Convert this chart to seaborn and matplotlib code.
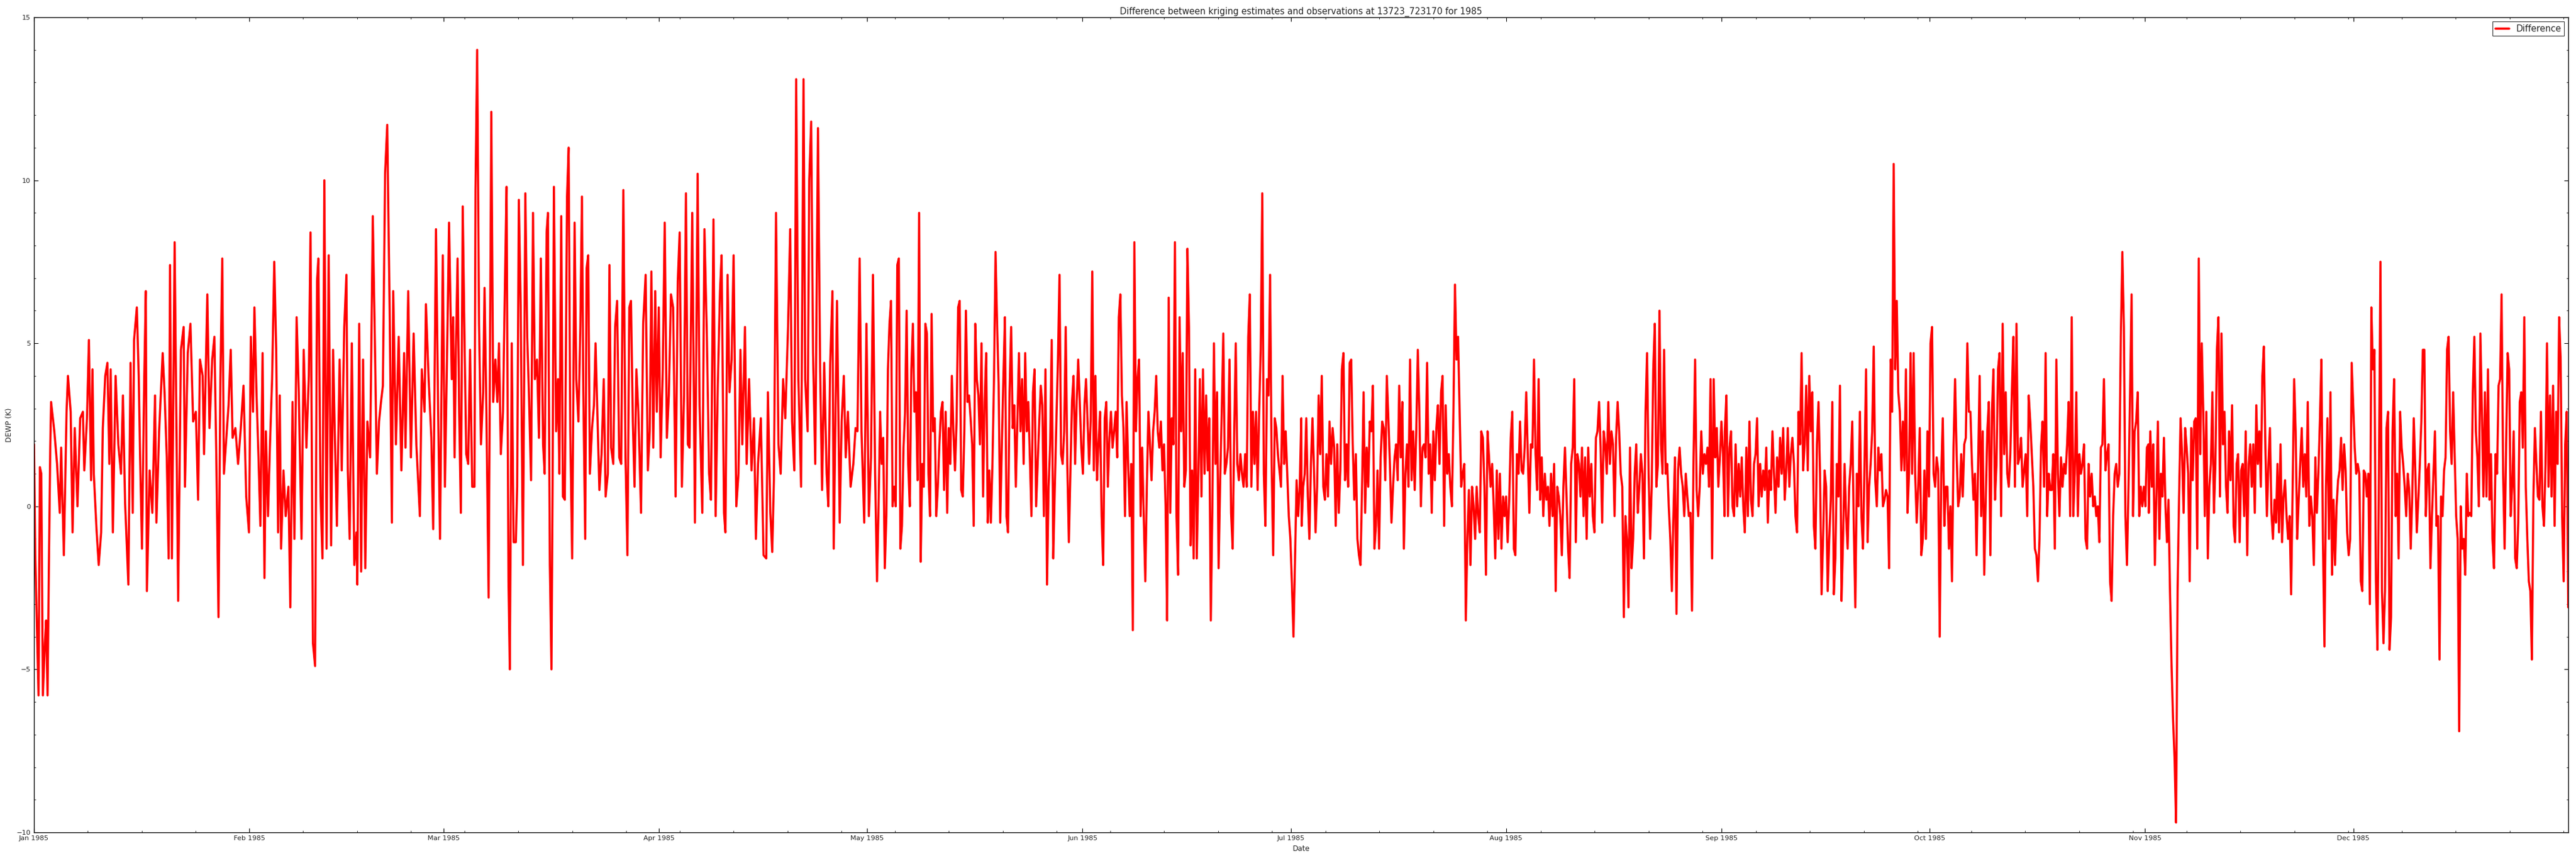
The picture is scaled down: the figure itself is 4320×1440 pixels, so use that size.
import numpy as np
import pandas as pd
import seaborn as sns
import matplotlib
matplotlib.use("Agg")
import matplotlib.pyplot as plt
import matplotlib.dates as mdates
from matplotlib.ticker import AutoMinorLocator, MultipleLocator

# Jan - Feb (day of year)
seg1_days = [0.0, 0.18, 0.65, 0.85, 1.05, 1.28, 1.56, 1.75, 1.95, 2.14,
             2.34, 2.46, 2.93, 3.32, 3.71, 3.91, 4.30, 4.69, 4.89, 5.28,
             5.55, 5.87, 6.26, 6.65, 7.04, 7.24, 7.63, 7.91, 8.22, 8.42,
             8.61, 9.00, 9.32, 9.67, 9.91, 10.26, 10.57, 10.85, 11.04, 11.36,
             11.75, 12.14, 12.53, 12.81, 13.12, 13.59, 13.90, 14.22, 14.41, 14.81,
             15.08, 15.28, 15.55, 15.86, 16.10, 16.26, 16.65, 17.04, 17.43, 17.63,
             18.02, 18.53, 18.80, 19.12, 19.39, 19.59, 19.86, 20.25, 20.76, 21.16,
             21.55, 21.74, 22.14, 22.53, 22.92, 23.31, 23.63, 23.90, 24.29, 24.49,
             24.96, 25.27, 25.66, 25.98, 26.25, 26.57, 26.84, 27.11, 27.35, 27.70,
             28.02, 28.33, 28.60, 29.00, 29.39, 29.78, 30.17, 30.56, 30.96, 31.23,
             31.54, 31.74, 32.05, 32.33, 32.60, 32.92, 33.19, 33.39, 33.70, 33.97,
             34.29, 34.60, 34.88, 35.15, 35.39, 35.58, 35.93, 36.25, 36.64, 36.91,
             37.23, 37.50, 37.82, 38.13, 38.52, 38.84, 39.23, 39.58, 39.82, 40.17,
             40.48, 40.76, 40.95, 41.27, 41.54, 41.81, 42.13, 42.44, 42.79, 43.07,
             43.30, 43.62, 44.01, 44.32, 44.68, 44.99, 45.19, 45.46, 45.77, 46.13,
             46.44, 46.56, 46.83, 47.11, 47.39, 47.71, 48.01, 48.40, 48.79, 49.11,
             49.38, 49.69, 49.97, 50.24, 50.56, 50.87, 51.22, 51.54, 51.73, 52.12,
             52.52, 52.91, 53.30, 53.50, 53.89, 54.28, 54.67, 55.06, 55.57, 55.85,
             56.24, 56.44, 56.83, 57.22, 57.49, 57.89, 58.20, 58.47, 58.87, 59.18,
             59.57, 59.77, 60.16]
seg1_vals = [1.9, -1.5, -5.8, 1.2, 1.0, -5.8, -4.2, -3.5, -5.8, -1.9,
             1.8, 3.2, 2.3, 1.3, -0.2, 1.8, -1.5, 2.9, 4.0, 2.9,
             -0.8, 2.4, 0.0, 2.7, 2.9, 1.1, 2.7, 5.1, 0.8, 4.2,
             1.0, -0.7, -1.8, -0.8, 2.4, 4.0, 4.4, 1.3, 4.2, -0.8,
             4.0, 1.9, 1.0, 3.4, 0.1, -2.4, 4.4, -0.2, 5.1, 6.1,
             4.0, 1.5, -1.3, 3.7, 6.6, -2.6, 1.1, -0.2, 3.4, -0.5,
             2.3, 4.7, 3.5, 1.5, -1.6, 7.4, -1.6, 8.1, -2.9, 4.8,
             5.5, 0.6, 4.7, 5.6, 2.6, 2.9, 0.2, 4.5, 4.0, 1.6,
             6.5, 2.4, 4.5, 5.2, 1.6, -3.4, 3.9, 7.6, 1.0, 2.1,
             3.1, 4.8, 2.1, 2.4, 1.3, 2.4, 3.7, 0.3, -0.8, 5.2,
             2.9, 6.1, 3.4, 1.5, -0.6, 4.7, -2.2, 2.3, -0.3, 1.8,
             3.9, 7.5, 4.8, -0.8, 3.4, -1.3, 1.1, -0.3, 0.6, -3.1,
             3.2, -1.0, 5.8, 3.5, -1.0, 4.8, 1.8, 4.0, 8.4, -4.2,
             -4.9, 6.9, 7.6, 0.3, -1.6, 10.0, -1.3, 7.7, -1.2, 4.8,
             2.4, -0.6, 4.5, 1.1, 5.5, 7.1, 1.1, -1.0, 5.0, -1.8,
             -0.8, -2.4, 5.6, -2.0, 4.5, -1.9, 2.6, 1.5, 8.9, 4.8,
             1.0, 2.6, 3.2, 3.7, 10.2, 11.7, 6.0, -0.5, 6.6, 1.9,
             5.2, 1.1, 4.7, 1.8, 6.6, 1.5, 5.3, 1.9, -0.3, 4.2,
             2.9, 6.2, 3.9, 2.1, -0.7, 8.5, 2.9, -1.0, 7.7, 0.6,
             5.8, 8.7, 3.9]

# Mar - Apr
seg2_days = [60.37, 60.57, 60.76, 61.00, 61.23, 61.47, 61.74, 62.02, 62.25, 62.53,
             62.80, 63.11, 63.43, 63.58, 63.82, 64.09, 64.37, 64.68, 64.88, 65.15,
             65.47, 65.86, 66.13, 66.45, 66.72, 66.96, 67.23, 67.54, 67.82, 68.05,
             68.33, 68.52, 68.80, 69.07, 69.39, 69.58, 69.82, 70.09, 70.41, 70.76,
             71.03, 71.27, 71.58, 71.86, 72.13, 72.44, 72.72, 72.99, 73.31, 73.54,
             73.82, 74.01, 74.29, 74.52, 74.68, 74.87, 75.19, 75.46, 75.66, 75.93,
             76.17, 76.44, 76.76, 76.99, 77.23, 77.50, 77.85, 78.09, 78.40, 78.68,
             78.91, 79.11, 79.38, 79.58, 79.81, 80.05, 80.36, 80.64, 80.87, 81.15,
             81.42, 81.73, 82.05, 82.32, 82.64, 82.87, 83.11, 83.42, 83.69, 83.97,
             84.28, 84.56, 84.87, 85.18, 85.46, 85.73, 85.97, 86.24, 86.48, 86.75,
             87.03, 87.42, 87.73, 88.08, 88.40, 88.67, 88.91, 89.18, 89.46, 89.69,
             89.97, 90.24, 90.55, 90.83, 91.14, 91.42, 91.73, 92.04, 92.40, 92.71,
             92.98, 93.30, 93.61, 93.89, 94.16, 94.40, 94.79, 95.18, 95.57, 95.85,
             96.24, 96.55, 96.90, 97.22, 97.49, 97.85, 98.16, 98.47, 98.79, 99.02,
             99.37, 99.57, 99.88, 100.16, 100.47, 100.75, 101.14, 101.45, 101.73, 102.00,
             102.39, 102.63, 102.98, 103.33, 103.69, 103.96, 104.27, 104.67, 105.06, 105.45,
             105.69, 106.04, 106.31, 106.55, 106.86, 107.21, 107.53, 107.88, 108.19, 108.59,
             108.90, 109.17, 109.49, 109.76, 110.08, 110.47, 110.82, 111.06, 111.41, 111.64,
             111.92, 112.19, 112.51, 112.90, 113.21, 113.49, 113.80, 114.15, 114.39, 114.66,
             114.98, 115.17, 115.64, 116.03, 116.31, 116.62, 116.90, 117.21, 117.60, 117.99,
             118.31, 118.58, 118.90, 119.17, 119.56, 119.88, 120.23, 120.54, 120.82, 121.13]
seg2_vals = [5.8, 1.5, 4.8, 7.6, 2.9, -0.2, 9.2, 4.8, 1.6, 1.3,
             4.8, 0.6, 0.6, 9.7, 14.0, 5.6, 1.9, 3.5, 6.7, 2.9,
             -2.8, 12.1, 3.2, 4.5, 3.2, 5.0, 1.6, 2.9, 6.8, 9.8,
             -2.3, -5.0, 5.0, -1.1, -1.1, 0.6, 9.4, 6.1, -1.8, 9.6,
             5.2, 3.5, 0.8, 9.0, 3.9, 4.5, 2.1, 7.6, 1.9, 1.0,
             8.4, 9.0, -1.8, -5.0, 0.6, 9.8, 2.3, 3.9, 1.0, 8.9,
             0.3, 0.2, 9.5, 11.0, 2.3, -1.6, 8.7, 3.9, 2.6, 5.5,
             9.5, 3.5, -1.0, 7.3, 7.7, 1.0, 2.4, 3.1, 5.0, 2.7,
             0.5, 1.6, 3.9, 0.3, 1.0, 7.4, 1.8, 1.3, 5.5, 6.3,
             1.5, 1.3, 9.7, 1.5, -1.5, 6.1, 6.3, 2.6, 0.6, 4.2,
             2.9, -0.2, 5.6, 7.1, 1.1, 2.3, 7.2, 1.8, 6.6, 2.9,
             6.1, 1.5, 4.2, 8.7, 2.1, 3.4, 6.5, 6.1, 0.3, 6.9,
             8.4, 0.6, 3.4, 9.6, 1.9, 1.8, 9.0, -0.5, 10.2, 3.1,
             -0.2, 8.5, 5.2, 1.0, 0.2, 8.8, -0.3, 3.7, 6.6, 7.7,
             -0.2, -0.8, 7.1, 3.5, 4.5, 7.7, 0.0, 1.0, 4.8, 1.9,
             5.5, 1.3, 3.9, 1.1, 2.7, -1.0, 1.3, 2.7, -1.5, -1.6,
             3.5, -0.2, -1.4, 0.8, 9.0, 1.9, 1.0, 3.9, 2.7, 5.5,
             8.5, 2.6, 1.1, 13.1, 3.9, 0.6, 13.1, 3.9, 2.3, 10.0,
             11.8, 4.7, 1.3, 11.6, 4.2, 0.5, 4.4, 1.0, 0.0, 4.4,
             6.6, -1.3, 6.3, -0.5, 2.6, 4.0, 1.5, 2.9, 0.6, 1.3,
             2.4, 2.3, 7.6, 2.3, -0.5, 5.6, -0.3, 1.5, 7.1, 1.0]

# May - Jun, evenly spaced readings
seg3_span = (121.4, 182.5)
seg3_vals = [-2.3, 0, 2.9, 1.3, 2.1, -1.9, -0.3, 4.2, 5.6, 6.3, 0, 0.6, 0, 7.4, 7.6, -1.3, -0.6, 1.8,
             2.9, 6.0, 1.3, 0, 4.2, 5.6, 2.9, 3.5, 0.8, 9.0, -1.7, 1.3, 0.6, 5.6, 5.3, 1.0, -0.3, 5.9,
             2.3, 2.7, -0.3, 0.6, 1.9, 2.9, 3.2, 0.5, 2.9, -0.2, 2.4, 1.3, 4.0, 2.3, 1.1, 2.6, 6.1, 6.3,
             0.5, 0.3, 2.3, 6.0, 3.2, 3.4, 2.7, 1.9, -0.6, 5.6, 3.9, 3.4, 1.9, 5.0, 0.3, 3.2, 4.7, -0.5,
             1.1, -0.5, 1.3, 3.9, 7.8, 5.6, 3.7, -0.5, 1.8, 3.9, 5.8, -0.3, -0.8, 3.5, 5.5, 2.4, 3.1,
             0.6, 2.6, 4.7, 2.3, 3.9, 1.3, 4.7, 2.3, 3.2, 1.5, -0.3, 3.5, 4.2, 0, 1.3, 2.6, 3.7, 3.1,
             -0.3, 4.2, -2.4, 0.6, 1.9, 5.1, -1.6, 0.6, 2.6, 4.5, 7.1, 1.6, 1.3, 2.3, 5.5, 1.3, -1.1,
             1.1, 3.2, 4.0, 1.3, 3.2, 4.5, 3.2, 1.8, 1.0, 3.1, 3.9, 2.6, 1.3, 2.6, 7.2, 1.1, 4.0, 0.8,
             1.9, 2.9, -0.3, -1.8, 2.7, 3.2, 0.6, 2.1, 2.9, 1.8, 2.3, 2.9, 1.5, 5.8, 6.5, 3.4, 2.4,
             -0.3, 3.2, 1.3, -0.3, 1.3, -3.8, 8.1, 2.3, 3.9, 4.5, -0.3, 1.8, -0.3, -2.3, 0.6, 2.9,
             1.9, 0.8, 2.3, 2.9, 4.0, 2.3, 1.8, 2.6, 1.1, 1.9, 0, -3.5, 6.4, -0.2, 2.7, 1.9, 8.1,
             -0.3, -2.1, 5.8, 2.3, 4.7, 0.6, 1.1, 7.9, 5.5, -1.2, 1.1, -1.6, 4.2, -1.6, 1.0, 3.9,
             0.3, 4.2, 1.0, 3.4, 1.1, 2.7, -3.5, 0, 5.0, 1.3, 3.5, -1.9, 0.8, 2.9, 5.3, 1.0, 1.3,
             1.8, 4.5, -0.2, -1.3, 2.3, 5.0, 1.3, 0.8, 1.6, 1.0, 0.6, 1.6, 0.6, 5.2, 6.5, 0.6, 2.9,
             1.3, 2.9, 0.5, 2.9, 4.8, 9.6, 1.0, -0.6, 3.9, 3.4, 7.1, 1.3, -1.5, 2.7, 2.4, 1.6, 1.1,
             0.6, 4.0, 1.3, 2.3, 1.0, -0.3, -1.0, -2.4, -4.0, -1.6, 0.8, -0.3, 0.6, 2.7]

# Jul - Aug
seg4_span = (182.55, 243.45)
seg4_vals = [-0.6, 0.6, 1.0, 2.7, 0.3, -1.0, 1.3, 2.7, 1.1, -0.8, 0.6, 3.4, 1.6, 4.0, 0.6, 0.2,
             1.6, 0.3, 2.6, 1.3, 2.4, 1.8, -0.6, 1.9, -0.2, 1.1, 4.2, 4.7, 0.8, 1.9, 0.6, 4.4, 4.5,
             1.9, 0.2, 1.6, -1.0, -1.5, -1.8, 0.6, 3.5, -0.2, 1.8, 0.6, 2.6, 2.3, 3.7, -1.3, -0.6,
             1.1, -1.3, 1.5, 2.6, 2.4, 0.8, 4.0, 2.7, 1.3, -0.5, 0.6, 1.5, 1.9, 0.8, 3.7, 1.5, 3.2,
             -1.3, 1.0, 1.9, 0.6, 4.5, 0.8, 2.3, 0.5, 2.3, 4.8, 2.9, 0, 1.8, 1.9, 1.5, 4.4, 1.0, 1.9,
             -0.2, 2.3, 0.8, 2.4, 3.1, 1.3, 3.5, 4.0, -0.6, 3.1, 1.0, 1.6, 0.6, 0, 2.9, 6.8, 4.5,
             5.2, 2.9, 0.6, 1.0, 1.3, -3.5, -1.0, 0.5, -1.8, 0.6, 0, -1.0, 0.6, -0.3, -0.8, 2.3,
             2.1, 0.6, -2.1, 2.3, 1.5, 0.6, 1.3, 0, -1.6, 1.1, -1.0, 1.0, -1.3, 0.3, -0.3, 0.3,
             -1.1, 0.2, 2.1, 2.9, -1.3, -1.5, 1.6, 1.0, 2.6, 1.1, 1.0, 1.8, 3.5, 1.6, -0.2, 1.9,
             1.8, 4.5, 1.6, 0.5, 3.9, 0.2, 1.5, -0.3, 1.0, 0.2, 0.6, -0.6, 1.0, -0.3, 1.3, -2.6,
             0.6, 0.3, -0.3, -1.5, 0.6, 1.8, 0.3, -1.3, -2.2, 1.3, 1.8, 3.9, -1.1, 1.6, 1.3, 0.3,
             1.8, -0.3, 1.5, -1.0, 1.8, 0.3, 1.3, -0.3, -0.8, 2.1, 2.3, 3.2, 1.8, -0.5, 2.3, 1.9,
             1.0, 3.2, 1.3, 2.3, 1.9, -0.3, 2.1, 3.2, 2.3, 1.0, 0.6, -3.4, -0.3, -1.0, -3.1, 1.8,
             -1.9, -1.0, 1.0, 1.9, -0.2, 0.6, 1.6, 1.0, -1.6, 2.9, 4.7, 1.0, -1.0, 0.6, 4.2, 5.6,
             0.6, 1.3, 6.0, 1.9, 1.0, 4.8, 1.0, 1.3, 0, -1.0, -2.6, -0.3, 1.5, -3.3, 1.1, 1.8, 1.0,
             0.6, -0.3, 1.0, 0.3, -0.3, -0.2, -3.2, 1.5, 4.5, 0.5, -0.3, 0.6, 2.3, 1.0, 1.6, 1.3,
             1.8, 0.6, 3.9, -1.6, 3.9, 1.5, 2.4, 0.6, 1.5, 2.6, 1.6, -0.3]

# Sep - Oct
seg5_span = (243.5, 304.5)
seg5_vals = [2.3, 3.4, -0.3, 1.8, 2.3, 0, -0.3, 1.9, 0, 1.3, 0.3, 1.5, 0, -0.8, 1.8, -0.3, 2.6,
             0.2, -0.3, 1.3, 1.6, 2.7, 0, 1.3, 0.3, 1.1, 0.5, 1.8, -0.5, 1.1, 0.5, 2.3, 1.0, -0.2,
             1.5, 0.6, 2.1, 1.0, 2.4, 0.2, 1.1, 2.4, 0.6, 1.6, 2.1, 1.3, -0.3, -0.8, 2.9, 1.9, 4.7,
             1.1, 1.9, 3.7, 1.1, 4.0, 2.3, 3.5, -0.6, -1.3, 1.9, 3.2, 1.0, -2.7, -1.0, 1.1, 0.6,
             -2.6, -1.0, 0.2, 3.2, -2.7, -1.6, 1.3, 0.3, 3.7, -2.9, -1.0, 1.3, -0.3, -1.3, 0.6, 1.3,
             2.6, -0.6, -3.1, 1.0, 0, 2.9, -0.3, -1.3, 1.3, 4.2, -1.1, 0.6, 1.3, 2.3, 4.9, 0.8, 0,
             1.8, 1.1, 1.6, 0, 0.2, 0.5, 0.3, -1.9, 4.5, 2.9, 10.5, 4.2, 6.3, 3.5, 2.9, 1.1, 2.6,
             1.1, 4.2, -0.2, 1.0, 4.7, 1.0, 4.7, 1.0, -0.5, 0.6, 2.4, -1.5, -1.0, 1.1, -1.0, 2.3,
             0.3, 5.0, 5.5, 1.0, 0.6, 1.5, 1.1, -4.0, 1.0, 2.7, -0.6, 0.6, 0.6, -1.3, 0, -2.3, 1.8,
             3.9, 1.6, 0, 0.3, 1.6, 0.3, 1.9, 2.1, 5.0, 2.9, 2.9, 1.3, 0.2, 1.0, -1.5, 1.3, 4.0,
             -0.3, 2.3, -2.1, 0.2, 2.3, 3.2, -1.5, 2.9, 4.2, 0.2, 1.3, 4.2, 4.7, -0.3, 5.6, 1.6, 3.5,
             1.0, 0.6, 1.6, 3.5, 5.2, 0.6, 5.6, 1.3, 1.5, 2.1, 0.6, 1.1, 1.6, -0.3, 3.4, 2.6, 1.6,
             0.6, -1.3, -1.5, -2.3, -1.0, 1.8, 2.6, 0.6, 4.7, -0.3, 1.0, 0.5, 0.5, 1.6, -1.3, 4.5,
             1.0, -0.3, 1.5, 0.6, 1.3, 1.0, 1.9, 3.2, -0.3, 5.8, -0.3, 1.0, 3.5, -0.3, 1.6, 1.0, 1.3,
             1.9, -1.0, -1.3, 1.3, 0.3, 1.0, 0, 0.3, -0.3, 0, -1.1, 1.8, 1.9, 3.9, 1.1, 1.6, 1.9,
             -2.3, -2.9, -0.3, 1.0, 1.3, 0.6, 1.0, 5.2, 7.8, 5.5, -0.3, -1.8, 0.6, 3.4, 6.5, -0.3,
             2.3, 2.6, 3.5, -0.3, 0.6, 0, 0.6, 0, 1.8, 1.9]

# Nov - Dec
seg6_span = (304.55, 364.95)
seg6_vals = [-0.2, 2.3, 0.6, 1.9, -1.8, 0.3, 2.6, -1.0, 1.0, 0.3, 2.1, 0, -1.1, 0.2, -2.6, -4.8,
             -6.5, -7.7, -9.7, -2.6, 0.3, 2.7, 1.6, -0.2, 2.4, 1.8, 1.0, -2.3, 2.4, 0.8, 2.6, 2.7,
             -1.3, 7.6, 1.6, 5.0, 2.9, -0.3, 2.9, -1.6, 0.6, 1.3, 3.5, -0.2, 1.3, 4.8, 5.8, 0.3, 5.3,
             1.9, 2.9, 0.6, -0.2, 2.3, 0.8, 3.1, -0.6, -1.1, 1.3, 1.6, -1.1, 1.1, 1.3, -0.3, 2.3,
             -1.5, 1.3, 1.9, 0.6, 1.9, -0.2, 3.1, 1.3, 2.3, 0.6, 4.0, 4.9, 1.8, -0.3, 1.3, 2.4, -0.2,
             -1.0, 0.2, -0.5, 1.3, -0.8, 1.9, -1.1, 0.3, 0.8, -0.3, -1.0, -0.3, -2.7, 0.6, 3.9, 2.3,
             -1.0, 0.2, 1.3, 2.4, 0.6, 1.6, 0.3, 3.2, -0.6, 0.3, -0.3, -1.8, 1.5, -0.2, 1.0, 2.6,
             4.5, -1.0, -4.3, 0.6, 2.7, -1.0, 3.5, -2.1, 0.2, -1.8, 0, 0.8, 1.1, 2.1, 0.5, 1.9, 1.1,
             -0.8, -1.5, -1.0, 4.4, 3.1, 1.8, 1.0, 1.3, 1.0, -2.3, -2.6, 1.1, 1.0, 0.3, 1.0, -3.0,
             6.1, 4.2, 4.8, -2.3, -4.4, 1.0, 7.5, -2.6, -4.2, -2.6, 2.4, 2.9, -4.4, -3.4, 2.3, 3.9,
             -0.3, 1.0, -1.6, 2.9, 1.8, 1.3, 0.6, -0.3, 1.0, 0.5, -1.3, 0.3, 2.7, 1.1, -0.8, 0.2,
             1.3, 2.6, 4.8, 4.8, -0.3, 1.1, 1.3, -1.9, -0.3, 1.0, 2.3, -0.6, -0.3, -4.7, 0.3, -0.3,
             1.1, 1.5, 4.8, 5.2, 2.3, 1.3, 3.5, 1.6, -0.3, -1.0, -6.9, 0, -1.3, -1.0, -2.1, 1.0,
             -0.3, -0.2, -0.3, 3.5, 5.2, 2.3, 1.5, 0, 5.3, 2.9, 0.3, 3.5, 0.3, 4.2, 0.2, 1.6, -1.0,
             -1.9, 1.6, 1.0, 3.7, 3.9, 6.5, 1.1, -1.3, 1.9, 4.7, 4.2, -0.3, 0.6, 2.3, -1.6, -1.9,
             -0.5, 3.2, 3.5, 1.8, 5.8, 0.6, -1.0, -2.3, -2.6, -4.7, 0.3, 2.4, 1.3, 0.3, 0.2, 2.9, 0,
             -0.6, 1.3, 5.0, 0.6, 3.4, 0.3, 3.7, -0.6, 2.9, 1.3, 5.8, 4.5, -0.3, -2.3, 1.9, 2.9, -3.1]

# build one table with time stamps
days = list(seg1_days) + list(seg2_days)
vals = list(seg1_vals) + list(seg2_vals)
for span, sv in [(seg3_span, seg3_vals), (seg4_span, seg4_vals),
                 (seg5_span, seg5_vals), (seg6_span, seg6_vals)]:
    days += list(np.linspace(span[0], span[1], len(sv)))
    vals += list(sv)

start = pd.Timestamp("1985-01-01")
df = pd.DataFrame({
    "Date": start + pd.to_timedelta(np.array(days), unit="D"),
    "Difference": vals,
})

sns.set_style("ticks")
plt.rcParams["font.family"] = ["DejaVu Sans"]

fig = plt.figure(figsize=(43.2, 14.4), dpi=100)
ax = fig.add_axes([0.0132, 0.0299, 0.9838, 0.95])

sns.lineplot(data=df, x="Date", y="Difference", color="red", linewidth=2.6,
             label="Difference", ax=ax)

ax.set_xlim(pd.Timestamp("1985-01-01"), pd.Timestamp("1985-12-31 23:00"))
ax.set_ylim(-10, 15)
ax.yaxis.set_major_locator(MultipleLocator(5))
ax.yaxis.set_minor_locator(AutoMinorLocator(5))
ax.xaxis.set_major_locator(mdates.MonthLocator())
ax.xaxis.set_major_formatter(mdates.DateFormatter("%b %Y"))
ax.xaxis.set_minor_locator(AutoMinorLocator(4))

ax.tick_params(which="both", direction="in", top=True, right=True, labelsize=8.2, color="black")
ax.tick_params(which="major", length=5, width=0.8, pad=4)
ax.tick_params(which="minor", length=2.5, width=0.6)
for s in ax.spines.values():
    s.set_linewidth(1.0)
    s.set_color("black")

ax.set_title("Difference between kriging estimates and observations at 13723_723170 for 1985",
             fontsize=10.5, pad=4)
ax.set_xlabel("Date", fontsize=8.7, labelpad=4)
ax.set_ylabel("DEWP (K)", fontsize=8.7, labelpad=4)

leg = ax.legend(loc="upper right", fontsize=10.5, frameon=True, fancybox=False,
                handlelength=1.6, borderpad=0.3, borderaxespad=0.5)
leg.get_frame().set_edgecolor("black")
leg.get_frame().set_linewidth(0.8)

fig.savefig("out.png", dpi=100, facecolor="white")
